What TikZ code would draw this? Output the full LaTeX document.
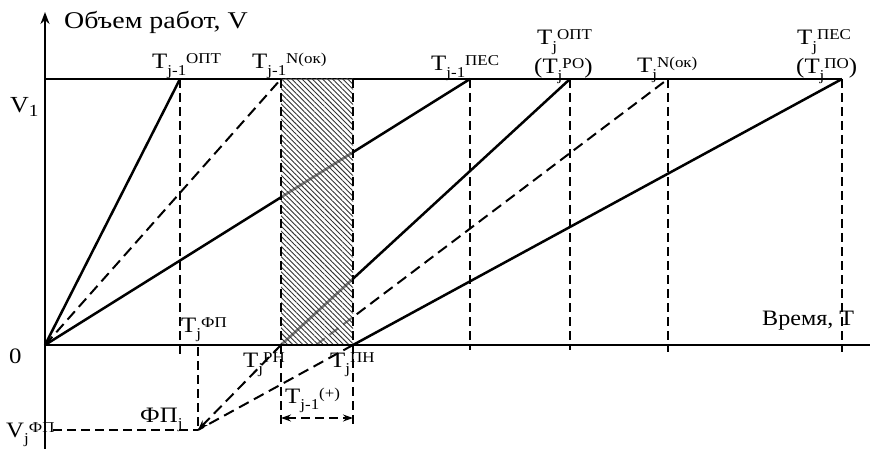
\documentclass[tikz,border=0pt]{standalone}
\usepackage{fontspec}
\setmainfont{Liberation Serif}
\usetikzlibrary{arrows.meta,patterns.meta}
\newcommand\lo[1]{\raisebox{-6.5pt}{\fontsize{15}{15}\selectfont #1}}
\newcommand\hi[1]{\raisebox{5pt}{\fontsize{15}{15}\selectfont #1}}
\begin{document}
\begin{tikzpicture}[x=1pt,y=1pt,
  lbl/.style={inner sep=0pt, anchor=base west, xscale=1.13, transform shape, font=\fontsize{22}{24}\selectfont},
  axis/.style={line width=2.7pt},
  ray/.style={line width=2.5pt},
  dray/.style={line width=2pt, dash pattern=on 11pt off 6pt},
  vdash/.style={line width=1.3pt, dash pattern=on 9pt off 5pt},
  thinline/.style={line width=1.1pt},
  tip/.style={-{Stealth[length=10pt,width=7pt]}}]
\useasboundingbox (0,0) rectangle (870,-449);
% coordinates
\coordinate (O) at (45,-345);
\coordinate (Ytop) at (45,-12);
\coordinate (Ybot) at (45,-449);
\coordinate (Xend) at (870,-345);
\coordinate (V1a) at (45,-79);
\coordinate (V1b) at (842,-79);
\coordinate (A1) at (180,-79);
\coordinate (A2) at (281,-79);
\coordinate (A3) at (470,-79);
\coordinate (B1) at (570,-79);
\coordinate (B2) at (668,-79);
\coordinate (B3) at (842,-79);
\coordinate (H2) at (353,-79);
\coordinate (RN) at (281,-345);
\coordinate (PN) at (353,-345);
\coordinate (NS) at (316,-345);
\coordinate (FP) at (198,-430);
\coordinate (FPx) at (198,-347);
\coordinate (FPl) at (53,-430);
\coordinate (A1b) at (180,-355);
\coordinate (A3b) at (470,-350);
\coordinate (B1b) at (570,-350);
\coordinate (B2b) at (668,-352);
\coordinate (B3b) at (842,-352);
\coordinate (RNb) at (281,-425);
\coordinate (PNb) at (353,-428);
\coordinate (DL) at (281,-418);
\coordinate (DR) at (353,-418);
% V1 line
\draw[thinline] (V1a) -- (V1b);
% vertical dashed guides
\draw[vdash] (A1) -- (A1b);
\draw[vdash] (A3) -- (A3b);
\draw[vdash] (B1) -- (B1b);
\draw[vdash] (B2) -- (B2b);
\draw[vdash] (B3) -- (B3b);
\draw[vdash] (FPx) -- (FP);
\draw[vdash] (FPl) -- (FP);
% rays
\draw[ray] (O) -- (A1);
\draw[dray] (O) -- (A2);
\draw[ray] (O) -- (A3);
\draw[ray] (RN) -- (B1);
\draw[dray] (NS) -- (B2);
\draw[ray] (PN) -- (B3);
\draw[dray,tip] (RN) -- (FP);
\draw[dray] (PN) -- (FP);
% hatched band
\fill[white, fill opacity=0.5] (A2) rectangle (PN);
\fill[pattern={Lines[angle=-45,distance=3.6pt,line width=0.9pt]}, pattern color=black!80] (A2) rectangle (PN);
\draw[vdash] (A2) -- (RNb);
\draw[vdash] (H2) -- (PNb);
\draw[vdash,{Stealth[length=10pt,width=7pt]}-{Stealth[length=10pt,width=7pt]}] (DL) -- (DR);
% axes
\draw[axis] (O) -- (Xend);
\draw[axis,-{Stealth[length=12pt,width=9pt]}] (Ybot) -- (Ytop);
% labels
\node[lbl,xscale=1.03,font=\fontsize{24}{26}\selectfont] (ylab) at (64,-29) {Объем работ, V};
\node[lbl,xscale=0.97] (xlab) at (762,-325) {Время, T};
\node[lbl,font=\fontsize{23}{25}\selectfont] (v1) at (10,-113) {V\raisebox{-4pt}{\fontsize{17}{17}\selectfont 1}};
\node[lbl] (zero) at (9,-363) {0};
\node[lbl] (t1) at (152,-69) {T\lo{j-1}\hi{ОПТ}};
\node[lbl] (t2) at (252,-69) {T\lo{j-1}\hi{N(ок)}};
\node[lbl] (t3) at (431,-71) {T\lo{j-1}\hi{ПЕС}};
\node[lbl] (t4) at (537,-45) {T\lo{j}\hi{ОПТ}};
\node[lbl] (t4b) at (534,-74) {(T\lo{j}\hi{РО})};
\node[lbl] (t5) at (637,-73) {T\lo{j}\hi{N(ок)}};
\node[lbl] (t6) at (797,-45) {T\lo{j}\hi{ПЕС}};
\node[lbl] (t6b) at (796,-74) {(T\lo{j}\hi{ПО})};
\node[lbl] (tfp) at (181,-332) {T\lo{j}\hi{ФП}};
\node[lbl] (trn) at (243,-367) {T\lo{j}\hi{РН}};
\node[lbl] (tpn) at (330,-367) {T\lo{j}\hi{ПН}};
\node[lbl] (fpj) at (140,-422) {ФП\lo{j}};
\node[lbl] (vfp) at (6,-437) {V\lo{j}\hi{ФП}};
\node[lbl] (tplus) at (285,-403) {T\lo{j-1}\hi{(+)}};
\end{tikzpicture}
\end{document}
